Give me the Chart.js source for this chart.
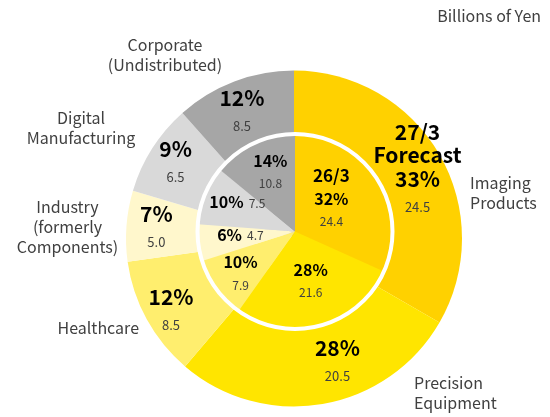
<!DOCTYPE html>
<html>
<head>
<meta charset="utf-8">
<script src="https://cdn.jsdelivr.net/npm/chart.js@4.4.1/dist/chart.umd.min.js"></script>
<style>
  body { margin: 0; background: #fff; }
  #wrap { position: relative; width: 550px; height: 417px; }
  #wrap canvas { position: absolute; left: 0; top: 0; }
</style>
</head>
<body>
<div id="wrap">
  <canvas id="outerChart" width="550" height="417"></canvas>
  <canvas id="innerChart" width="550" height="417"></canvas>
</div>
<script>
// segments, clockwise from 12 o'clock
const categories = ["Imaging Products", "Precision Equipment", "Healthcare", "Industry (formerly Components)", "Digital Manufacturing", "Corporate (Undistributed)"];
const categoryLines = [["Imaging", "Products"], ["Precision", "Equipment"], ["Healthcare"], ["Industry", "(formerly", "Components)"], ["Digital", "Manufacturing"], ["Corporate", "(Undistributed)"]];
const forecastValues = [24.5, 20.5, 8.5, 5.0, 6.5, 8.5]; // 27/3 forecast (outer ring)
const actualValues = [24.4, 21.6, 7.9, 4.7, 7.5, 10.8];  // 26/3 (inner pie)
const outerTitle = ["27/3", "Forecast"];
const innerTitle = ["26/3"];
const unitLabel = "Billions of Yen";

const colors = ["#FFD100", "#FFE500", "#FFEE6E", "#FFF7CC", "#D9D9D9", "#A6A6A6"];
const FONT = '"Noto Sans CJK JP", "Noto Sans", sans-serif';
const TEXT_GRAY = "#404040";

// small label tweaks (px) relative to the slice centroid
const outerNudge = [[4, 0], [20, -12], [-2, 6], [0, 0], [-2, -1], [-3, 3]];
const innerNudge = [[-14, 0], [0, -8], [-6, 7], [5, -4], [-2, -7], [1, -5]];
const innerInline = [false, false, false, true, true, false];
// category name placement relative to the ring centre: dx, dy, align
const catPos = [[176, -45.5, "left"], [120, 154, "left"], [-155, 89.5, "right"], [-226.5, -11.5, "center"], [-213, -110.5, "center"], [-129, -184, "center"]];

function pct(values, i) {
    const total = values.reduce((a, b) => a + b, 0);
    return Math.round(values[i] / total * 100) + "%";
}

function drawStack(ctx, x, y, lines) {
    // lines: {text, font, color, gap}
    let pos = [];
    let acc = 0;
    lines.forEach((l, i) => {
        if (i > 0) acc += l.gap;
        pos.push(acc);
    });
    const mid = acc / 2;
    lines.forEach((l, i) => {
        ctx.font = l.font;
        ctx.fillStyle = l.color;
        ctx.fillText(l.text, x, y + pos[i] - mid);
    });
}

const outerLabels = {
    id: "outerLabels",
    afterDraw(chart) {
        const ctx = chart.ctx;
        const arcs = chart.getDatasetMeta(0).data;
        ctx.save();
        ctx.textAlign = "center";
        ctx.textBaseline = "middle";
        arcs.forEach((arc, i) => {
            const a = (arc.startAngle + arc.endAngle) / 2;
            const r = 138;
            const x = arc.x + Math.cos(a) * r + outerNudge[i][0];
            const y = arc.y + Math.sin(a) * r + outerNudge[i][1];
            let lines = [];
            if (i === 0) {
                outerTitle.forEach((t, k) => lines.push({ text: t, font: "bold 21px " + FONT, color: "#000", gap: 23 }));
            }
            lines.push({ text: pct(forecastValues, i), font: "bold 21px " + FONT, color: "#000", gap: 24 });
            lines.push({ text: forecastValues[i].toFixed(1), font: "13px " + FONT, color: TEXT_GRAY, gap: 28 });
            drawStack(ctx, x, y, lines);
        });

        // category names around the ring
        const cx = arcs[0].x, cy = arcs[0].y;
        ctx.font = "16px " + FONT;
        ctx.fillStyle = TEXT_GRAY;
        categoryLines.forEach((ls, i) => {
            const [dx, dy, align] = catPos[i];
            ctx.textAlign = align;
            const lh = 20;
            ls.forEach((t, k) => {
                ctx.fillText(t, cx + dx, cy + dy + (k - (ls.length - 1) / 2) * lh);
            });
        });

        ctx.textAlign = "right";
        ctx.fillText(unitLabel, 541, 16);
        ctx.restore();
    }
};

const innerLabels = {
    id: "innerLabels",
    afterDatasetsDraw(chart) {
        const ctx = chart.ctx;
        const arcs = chart.getDatasetMeta(0).data;
        ctx.save();
        // white rim round the inner pie
        ctx.beginPath();
        ctx.arc(arcs[0].x, arcs[0].y, arcs[0].outerRadius, 0, Math.PI * 2);
        ctx.strokeStyle = "#fff";
        ctx.lineWidth = 4;
        ctx.stroke();

        ctx.textBaseline = "middle";
        arcs.forEach((arc, i) => {
            const a = (arc.startAngle + arc.endAngle) / 2;
            const r = 60;
            const x = arc.x + Math.cos(a) * r + innerNudge[i][0];
            const y = arc.y + Math.sin(a) * r + innerNudge[i][1];
            const p = pct(actualValues, i);
            const v = actualValues[i].toFixed(1);
            if (innerInline[i]) {
                ctx.font = "bold 16px " + FONT;
                const w1 = ctx.measureText(p).width;
                ctx.font = "12px " + FONT;
                const w2 = ctx.measureText(v).width;
                const gap = 5;
                const x0 = x - (w1 + gap + w2) / 2;
                ctx.textAlign = "left";
                ctx.font = "bold 16px " + FONT;
                ctx.fillStyle = "#000";
                ctx.fillText(p, x0, y);
                ctx.font = "12px " + FONT;
                ctx.fillStyle = TEXT_GRAY;
                ctx.fillText(v, x0 + w1 + gap, y + 1);
            } else {
                ctx.textAlign = "center";
                let lines = [];
                if (i === 0) {
                    innerTitle.forEach(t => lines.push({ text: t, font: "bold 17px " + FONT, color: "#000", gap: 23 }));
                }
                lines.push({ text: p, font: "bold 16px " + FONT, color: "#000", gap: 23 });
                lines.push({ text: v, font: "12px " + FONT, color: TEXT_GRAY, gap: 23 });
                drawStack(ctx, x, y, lines);
            }
        });
        ctx.restore();
    }
};

const commonOptions = {
    responsive: false,
    animation: false,
    events: [],
    plugins: {
        legend: { display: false },
        tooltip: { enabled: false },
    },
};

// outer ring: 27/3 forecast
const outerChart = new Chart(document.getElementById("outerChart").getContext("2d"), {
    type: "pie",
    data: {
        labels: categories,
        datasets: [
            {
                label: "27/3 Forecast",
                data: forecastValues,
                backgroundColor: colors,
                borderWidth: 0,
                hoverOffset: 0,
            },
        ],
    },
    options: Object.assign({}, commonOptions, {
        layout: { padding: { left: 126, right: 88, top: 70.5, bottom: 10.5 } },
    }),
    plugins: [outerLabels],
});

// inner pie: 26/3 actual
const innerChart = new Chart(document.getElementById("innerChart").getContext("2d"), {
    type: "pie",
    data: {
        labels: categories,
        datasets: [
            {
                label: "26/3",
                data: actualValues,
                backgroundColor: colors,
                borderWidth: 0,
                hoverOffset: 0,
            },
        ],
    },
    options: Object.assign({}, commonOptions, {
        layout: { padding: { left: 197.5, right: 157.5, top: 134, bottom: 88 } },
    }),
    plugins: [innerLabels],
});
</script>
</body>
</html>
